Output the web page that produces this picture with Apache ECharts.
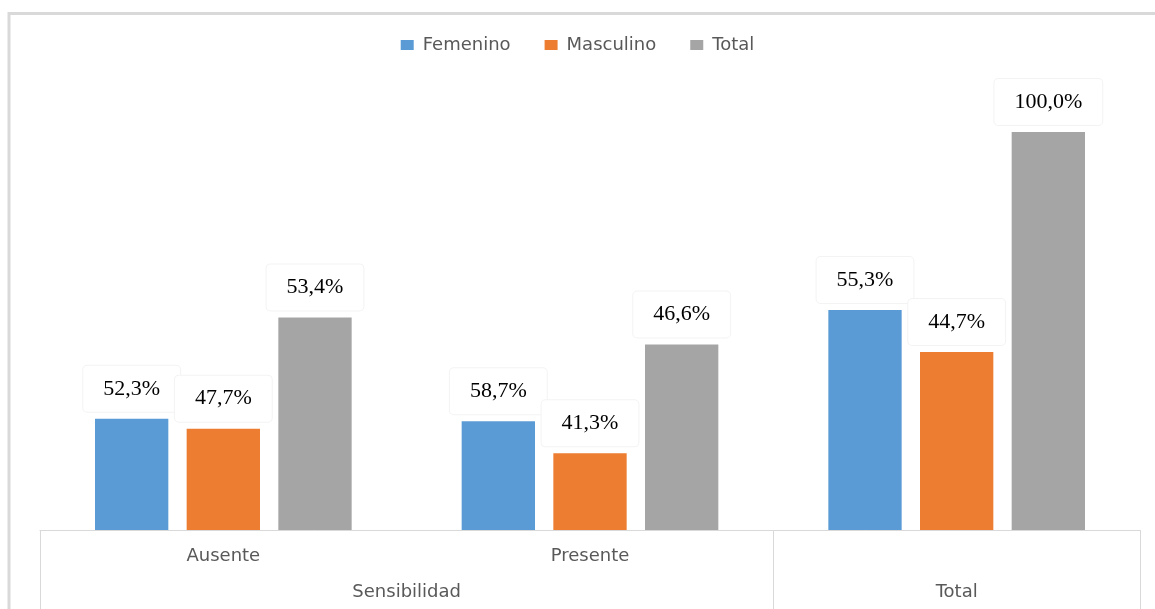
<!DOCTYPE html>
<html>
<head>
<meta charset="utf-8">
<script src="https://cdn.jsdelivr.net/npm/echarts@6/dist/echarts.min.js"></script>
<style>
html,body{margin:0;padding:0;background:#fff;}
#chart{width:1155px;height:609px;}
</style>
</head>
<body>
<div id="chart"></div>
<script>
// ---- data ----
const categories = ['Ausente', 'Presente', 'Total'];
const firstLevelLabels = ['Ausente', 'Presente', ''];
const groupNames = ['Sensibilidad', 'Total'];
const groupSpans = [2, 1];
const seriesNames = ['Femenino', 'Masculino', 'Total'];
const femeninoCounts = [45, 44, 89];
const masculinoCounts = [41, 31, 72];
const totalCounts = [86, 75, 161];
const femeninoLabels = ['52,3%', '58,7%', '55,3%'];
const masculinoLabels = ['47,7%', '41,3%', '44,7%'];
const totalLabels = ['53,4%', '46,6%', '100,0%'];

// ---- chart ----
const colors = ['#5B9BD5', '#ED7D31', '#A5A5A5'];
const textGray = '#595959';
const lineGray = '#D9D9D9';
const sansFont = 'DejaVu Sans';

// group centers / boundaries along the category index scale
const groupCenters = [];
const groupBounds = [0];
let acc = 0;
groupSpans.forEach(s => { groupCenters.push(acc + s / 2); acc += s; groupBounds.push(acc); });

const labelStyle = (labels) => ({
  show: true,
  position: 'top',
  distance: 7,
  formatter: p => labels[p.dataIndex],
  fontFamily: 'Liberation Serif',
  fontSize: 22,
  color: '#000',
  backgroundColor: '#fff',
  borderColor: '#F3F3F3',
  borderWidth: 1,
  borderRadius: 4,
  padding: [12, 20]
});

const mk = (name, data, labels, i) => ({
  name, type: 'bar', data,
  xAxisIndex: 0,
  itemStyle: { color: colors[i] },
  barGap: '25%',
  barCategoryGap: '30%',
  label: labelStyle(labels)
});

const chart = echarts.init(document.getElementById('chart'), null, { renderer: 'canvas' });
chart.setOption({
  animation: false,
  backgroundColor: '#fff',
  graphic: [{
    type: 'rect',
    shape: { x: 9, y: 13.5, width: 1300, height: 800 },
    style: { fill: 'none', stroke: lineGray, lineWidth: 3 },
    silent: true, z: -1
  }],
  legend: {
    data: seriesNames,
    top: 31,
    left: 'center',
    itemWidth: 13,
    itemHeight: 10,
    itemGap: 34,
    icon: 'rect',
    textStyle: { color: textGray, fontSize: 18, fontFamily: sansFont, padding: [0, 0, 0, 4] }
  },
  grid: { left: 40, right: 15, top: 85, bottom: 79, containLabel: false },
  xAxis: [{
    type: 'category',
    data: categories,
    position: 'bottom',
    axisLine: { show: true, lineStyle: { color: lineGray, width: 1 } },
    axisTick: { show: false },
    axisLabel: {
      margin: 17,
      color: textGray,
      fontSize: 18,
      fontFamily: sansFont,
      formatter: (v, i) => firstLevelLabels[i]
    }
  }, {
    type: 'value',
    min: 0,
    max: categories.length,
    position: 'bottom',
    axisLine: { show: false },
    splitLine: { show: false },
    axisTick: { show: true, customValues: groupBounds, length: 79, inside: false, lineStyle: { color: lineGray, width: 1 } },
    axisLabel: {
      customValues: groupCenters,
      margin: 53,
      color: textGray,
      fontSize: 18,
      fontFamily: sansFont,
      formatter: v => groupNames[groupCenters.indexOf(v)]
    }
  }],
  yAxis: { type: 'value', min: 0, max: 180, show: false, splitLine: { show: false } },
  series: [
    mk(seriesNames[0], femeninoCounts, femeninoLabels, 0),
    mk(seriesNames[1], masculinoCounts, masculinoLabels, 1),
    mk(seriesNames[2], totalCounts, totalLabels, 2)
  ]
});
</script>
</body>
</html>
